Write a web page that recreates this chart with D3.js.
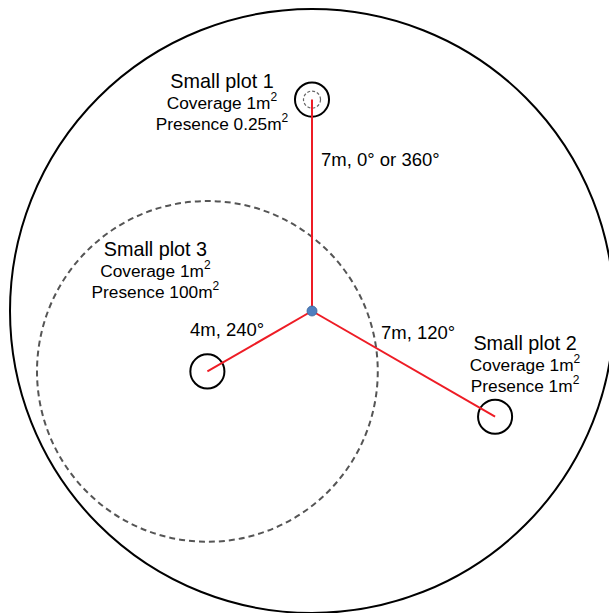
<!DOCTYPE html>
<html>
<head>
<meta charset="utf-8">
<script src="https://cdn.jsdelivr.net/npm/d3@7"></script>
<style>
  html, body { margin: 0; padding: 0; background: #fff; }
  svg { display: block; }
  text { font-family: "Liberation Sans", Arial, sans-serif; fill: #000; }
</style>
</head>
<body>
<script>
// ---- data ----
const plotNames = ["Small plot 1", "Small plot 2", "Small plot 3"];
const distances = [7, 7, 4];             // metres from centre
const azimuths = [0, 120, 240];          // degrees clockwise from north
const coverageAreas = [1, 1, 1];         // m²
const presenceAreas = [0.25, 1, 100];    // m²
const coverageLabels = ["1", "1", "1"];
const presenceLabels = ["0.25", "1", "100"];
const lineLabels = ["7m, 0° or 360°", "7m, 120°", "4m, 240°"];
const mainPlotRadius = 10;               // metres

// ---- layout ----
const W = 609, H = 613;
const cx = 312, cy = 311, Rpx = 302;
const s = d3.scaleLinear().domain([0, mainPlotRadius]).range([0, Rpx]);
const xPos = (d, a) => cx + s(d * Math.sin(a * Math.PI / 180));
const yPos = (d, a) => cy - s(d * Math.cos(a * Math.PI / 180));
const areaToR = a => s(Math.sqrt(a / Math.PI));

const plots = plotNames.map((n, i) => ({
  name: n, dist: distances[i], az: azimuths[i],
  cov: coverageAreas[i], pres: presenceAreas[i],
  covLab: coverageLabels[i], presLab: presenceLabels[i],
  lineLab: lineLabels[i],
  x: xPos(distances[i], azimuths[i]), y: yPos(distances[i], azimuths[i])
}));

// label offsets (relative to plot centre) and line-label anchors
const labelOffsets = [[-90, -12], [30, -67], [-52, -115]];
const lineLabelPos = [[321, 166], [381, 339], [190, 336]];

const svg = d3.select("body").append("svg").attr("width", W).attr("height", H);

// main plot circle
svg.append("circle").attr("cx", cx).attr("cy", cy).attr("r", s(mainPlotRadius))
  .attr("fill", "none").attr("stroke", "#000").attr("stroke-width", 2);

// presence circles (dashed) where larger/smaller than coverage
plots.filter(p => p.pres !== p.cov).forEach(p => {
  const big = p.pres > p.cov;
  svg.append("circle").attr("cx", p.x).attr("cy", p.y).attr("r", areaToR(p.pres))
    .attr("fill", "none").attr("stroke", big ? "#555" : "#666")
    .attr("stroke-width", big ? 2 : 1.2)
    .attr("stroke-dasharray", big ? "6,4" : "3,2");
});

// coverage circles
svg.selectAll("circle.cov").data(plots).enter().append("circle")
  .attr("class", "cov")
  .attr("cx", d => d.x).attr("cy", d => d.y).attr("r", d => areaToR(d.cov))
  .attr("fill", "none").attr("stroke", "#000").attr("stroke-width", 2);

// radial lines
svg.selectAll("line.rad").data(plots).enter().append("line")
  .attr("class", "rad")
  .attr("x1", cx).attr("y1", cy).attr("x2", d => d.x).attr("y2", d => d.y)
  .attr("stroke", "#ee1c25").attr("stroke-width", 2);

// centre point
svg.append("circle").attr("cx", cx).attr("cy", cy).attr("r", 5)
  .attr("fill", "#4f7fbf").attr("stroke", "#3a649a").attr("stroke-width", 0.8);

// plot labels
plots.forEach((p, i) => {
  const lx = p.x + labelOffsets[i][0], ly = p.y + labelOffsets[i][1];
  const g = svg.append("g");
  g.append("text").attr("x", lx).attr("y", ly).attr("text-anchor", "middle")
    .attr("font-size", 19.8).text(p.name);
  const t2 = g.append("text").attr("x", lx).attr("y", ly + 21).attr("text-anchor", "middle")
    .attr("font-size", 17.3);
  t2.append("tspan").text("Coverage " + p.covLab + "m");
  t2.append("tspan").attr("dy", -8).attr("font-size", 12).text("2");
  const t3 = g.append("text").attr("x", lx).attr("y", ly + 42).attr("text-anchor", "middle")
    .attr("font-size", 17.3);
  t3.append("tspan").text("Presence " + p.presLab + "m");
  t3.append("tspan").attr("dy", -8).attr("font-size", 12).text("2");
});

// line labels
svg.selectAll("text.ll").data(plots).enter().append("text")
  .attr("class", "ll")
  .attr("x", (d, i) => lineLabelPos[i][0]).attr("y", (d, i) => lineLabelPos[i][1])
  .attr("font-size", 18.5).text(d => d.lineLab);
</script>
</body>
</html>
